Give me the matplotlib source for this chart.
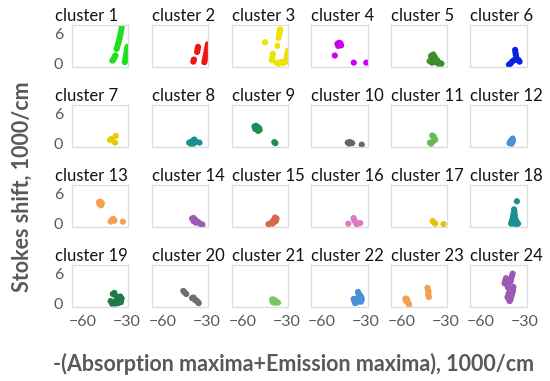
import matplotlib
matplotlib.use("Agg")
import matplotlib.pyplot as plt

W, H = 550, 381

titles = [f"cluster {i}" for i in range(1, 25)]

colors = ['#1fe01f', '#f41212', '#ece400', '#cc00ee', '#3a8f2a', '#0a22e0',
          '#e6cc00', '#1a9090', '#1e8e50', '#666666', '#66bb55', '#4a90d9',
          '#f5a050', '#9b59b6', '#d9684a', '#d97bbf', '#e6c200', '#1a9090',
          '#1e7b44', '#6e6e6e', '#77c465', '#4a90d9', '#f5a050', '#9b59b6']

c1x = [-33.5, -33.8, -34.2, -34.6, -35.0, -35.5, -36.0, -36.6, -37.0, -37.8, -38.5, -39.2, -39.8,
       -29.6, -29.9, -30.2, -30.5, -30.8, -31.1, -31.4]
c1y = [7.2, 6.6, 6.0, 5.4, 4.9, 4.3, 3.8, 3.2, 2.9, 1.6, 1.2, 0.8, 0.6,
       3.3, 2.8, 2.2, 1.7, 1.2, 0.7, 0.3]
c2x = [-36.0, -36.3, -36.6, -38.8, -39.2, -29.3, -29.7, -30.1, -30.5, -30.9, -31.3, -31.7]
c2y = [3.3, 2.8, 2.3, 0.8, 0.4, 3.8, 3.2, 2.6, 2.0, 1.4, 0.8, 0.3]
c3x = [-34.6, -34.9, -35.2, -35.6, -44.8, -36.4, -29.3, -29.6, -29.9, -30.2, -30.5,
       -39.6, -39.9, -40.2, -37.0, -35.5, -34.0, -32.5, -31.5]
c3y = [6.7, 6.2, 5.7, 5.1, 4.2, 3.5, 2.5, 2.0, 1.5, 1.0, 0.4,
       1.9, 1.3, 0.7, 0.2, 0.0, 0.3, 0.1, 0.4]
c4x = [-49.5, -48.5, -47.5, -47.0, -49.0, -48.0, -51.3, -38.4, -29.9]
c4y = [3.9, 4.1, 4.0, 3.6, 3.5, 3.7, 1.6, 0.2, 0.2]
c5x = [-40.0, -38.5, -37.5, -39.0, -41.0, -39.5, -37.5, -36.0, -34.5, -33.0, -35.0]
c5y = [1.5, 1.8, 1.3, 1.0, 0.5, 0.2, 0.3, 0.7, 0.2, 0.0, 0.0]
c6x = [-36.8, -36.6, -36.3, -36.0, -35.8, -34.5, -33.8, -37.5, -38.8, -40.0, -41.0]
c6y = [2.7, 2.2, 1.7, 1.2, 0.8, 0.7, 0.4, 0.7, 0.4, 0.0, -0.2]
c7x = [-41.4, -40.6, -37.6, -38.0]
c7y = [0.7, 0.9, 1.5, 0.2]
c8x = [-42.0, -40.5, -39.5, -38.5, -37.5, -39.0, -41.0, -35.0]
c8y = [0.2, 0.3, 0.6, 0.8, 0.4, 0.0, 0.0, 0.2]
c9x = [-52.0, -51.0, -50.0, -49.0, -50.5, -51.5, -49.5, -48.5, -38.5, -37.8]
c9y = [3.4, 3.5, 3.3, 3.1, 2.8, 2.9, 2.5, 2.7, 0.3, 0.1]
c10x = [-42.5, -41.0, -39.5, -41.5, -33.0]
c10y = [0.2, 0.3, 0.1, 0.0, -0.2]
c11x = [-39.2, -38.3, -37.2, -38.5, -40.8, -40.0]
c11y = [1.6, 1.4, 0.8, 0.5, 0.2, 0.0]
c12x = [-38.5, -39.3, -40.0, -40.6, -39.2, -38.3]
c12y = [1.0, 0.7, 0.4, 0.1, 0.0, 0.5]
c13x = [-49.0, -48.0, -47.0, -47.5, -48.5, -41.0, -40.0, -39.0, -38.5, -32.7]
c13y = [4.2, 4.3, 4.0, 3.6, 3.8, 0.4, 0.8, 0.9, 0.6, 0.4]
c14x = [-40.0, -39.0, -38.0, -37.0, -36.0, -35.0, -34.0, -33.0, -37.5, -39.0]
c14y = [1.0, 1.1, 0.8, 0.5, 0.3, 0.1, -0.1, -0.2, 0.2, 0.5]
c15x = [-38.0, -37.0, -39.0, -40.0, -41.5, -42.5, -39.5, -37.5]
c15y = [1.2, 1.0, 0.7, 0.3, 0.0, -0.1, 0.0, 0.5]
c16x = [-42.1, -38.5, -38.0, -37.0, -35.5, -34.0, -36.5]
c16y = [0.0, 1.1, 0.6, 0.3, 0.0, 0.1, -0.1]
c17x = [-39.0, -38.0, -37.2, -31.6]
c17y = [0.5, 0.2, 0.0, -0.1]
c18x = [-35.6, -37.5, -37.3, -37.8, -37.0, -38.2, -37.0, -38.5, -36.5, -39.0, -37.5, -35.8,
        -39.5, -38.0, -36.0, -34.8]
c18y = [4.4, 2.8, 2.4, 2.0, 1.7, 1.4, 1.2, 0.9, 0.8, 0.5, 0.4, 0.4,
        0.0, 0.0, -0.1, 0.0]
c19x = [-39.5, -38.5, -37.5, -36.0, -34.5, -33.5, -35.0, -37.0, -39.0, -41.0, -40.0, -38.0, -36.0, -34.0]
c19y = [1.9, 2.1, 1.5, 1.2, 1.4, 1.0, 0.6, 0.4, 0.3, 0.5, 0.0, 0.0, 0.1, 0.3]
c20x = [-46.0, -45.0, -44.0, -40.0, -39.0, -38.0, -37.0, -36.0, -35.5]
c20y = [2.5, 2.2, 1.9, 1.1, 1.2, 0.7, 0.6, 0.3, 0.1]
c21x = [-40.0, -39.0, -38.0, -37.0, -36.0, -39.5, -38.0]
c21y = [0.8, 0.8, 0.6, 0.4, 0.2, 0.3, 0.2]
c22x = [-35.5, -35.0, -34.0, -33.2, -33.0, -33.5, -38.5, -38.0, -37.5, -36.0, -36.5, -34.5]
c22y = [2.3, 1.9, 1.6, 1.2, 0.8, 0.4, 0.9, 0.5, 0.1, 0.3, 1.0, 0.6]
c23x = [-57.5, -56.5, -56.0, -55.5, -55.0, -57.0, -42.5, -42.0, -41.8, -42.0, -41.5]
c23y = [1.0, 0.9, 0.5, 0.1, -0.2, 0.5, 3.1, 2.6, 2.2, 1.6, 1.3]
c24x = [-38.5, -39.0, -39.5, -40.0, -43.0, -43.5, -44.0, -42.0, -41.5, -38.0, -38.2, -38.5,
        -39.0, -39.5, -40.0, -40.5, -41.5, -41.2, -42.0]
c24y = [5.9, 5.4, 4.8, 4.3, 5.0, 4.5, 4.0, 3.5, 3.1, 3.3, 2.8, 2.3,
        1.8, 1.3, 0.8, 0.5, 1.0, 2.0, 1.3]

xs = [c1x, c2x, c3x, c4x, c5x, c6x, c7x, c8x, c9x, c10x, c11x, c12x,
      c13x, c14x, c15x, c16x, c17x, c18x, c19x, c20x, c21x, c22x, c23x, c24x]
ys = [c1y, c2y, c3y, c4y, c5y, c6y, c7y, c8y, c9y, c10y, c11y, c12y,
      c13y, c14y, c15y, c16y, c17y, c18y, c19y, c20y, c21y, c22y, c23y, c24y]

x_ticks = [-60, -30]
y_ticks = [0, 6]

plt.rcParams['font.family'] = ['Lato', 'DejaVu Sans']
fig = plt.figure(figsize=(W / 100, H / 100), dpi=100)

col_left = [71.7, 151.7, 231.7, 311.0, 390.7, 470.0]
row_top = [25.0, 105.0, 185.0, 265.0]
aw, ah = 56.6, 41.7
gray = '#595959'

for i in range(24):
    r, c = divmod(i, 6)
    ax = fig.add_axes([col_left[c] / W, 1 - (row_top[r] + ah) / H, aw / W, ah / H])
    ax.scatter(xs[i], ys[i], s=20, color=colors[i], edgecolors='none')
    ax.set_xlim(-67.5, -29)
    ax.set_ylim(-0.6, 7.6)
    ax.set_xticks(x_ticks)
    ax.set_yticks(y_ticks)
    ax.tick_params(length=0, labelsize=11.5, labelcolor=gray, pad=6)
    if c != 0:
        ax.set_yticklabels([])
    if r != 3:
        ax.set_xticklabels([])
    for sp in ax.spines.values():
        sp.set_color('#dcdcdc')
        sp.set_linewidth(0.9)
    tx = -0.295 if c == 0 else 0.0
    ax.text(tx, 1.0 + 4 / ah, titles[i], transform=ax.transAxes, ha='left', va='baseline',
            fontsize=12, color='#111111')

fig.text(22 / W, 1 - 187 / H, 'Stokes shift, 1000/cm', rotation=90, ha='center', va='center',
         fontsize=15.5, fontweight='bold', color=gray)
fig.text(294 / W, 1 - 364 / H, '-(Absorption maxima+Emission maxima), 1000/cm', ha='center',
         va='center', fontsize=15.5, fontweight='bold', color=gray)

fig.savefig('out.png', dpi=100)
